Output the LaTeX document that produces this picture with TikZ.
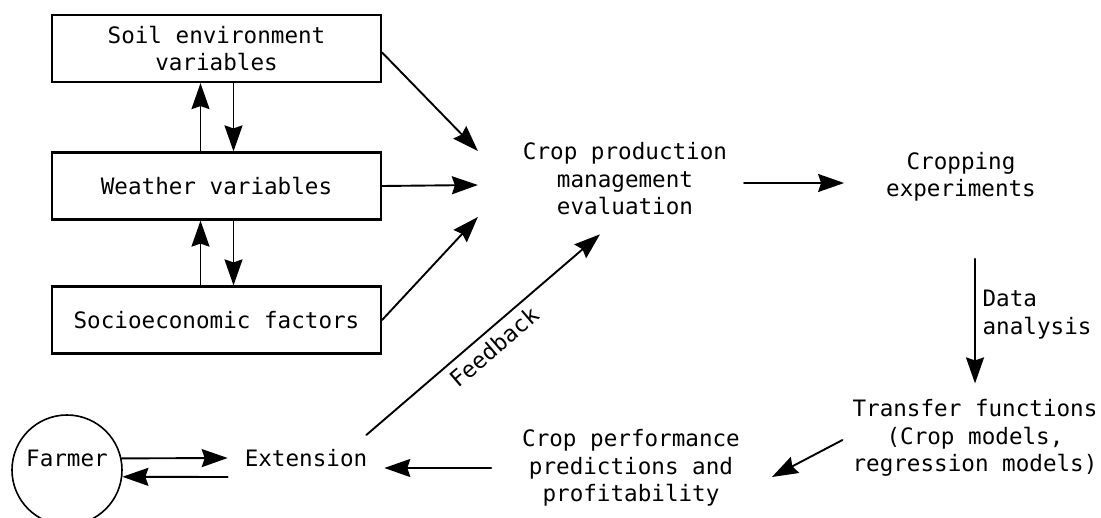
\documentclass[tikz,border=0pt]{standalone}
\usepackage{fontspec}
\newfontfamily\diagfont{DejaVu Sans Mono}
\usetikzlibrary{calc,arrows.meta}

\tikzset{
	box/.style={draw, line width=1.1pt, minimum width=164.5pt, minimum height=33.5pt, align=center},
	txt/.style={align=center},
	arr/.style={line width=0.95pt, -{Stealth[length=13pt,width=9pt,inset=1.5pt]}},
}

\begin{document}
\begin{tikzpicture}[x=0.5pt, y=-0.5pt, line cap=round, font={\diagfont\fontsize{11.3}{13.75}\selectfont}]
		\useasboundingbox (0,0) rectangle (1101,518);
		
		% Boxes
		\node[box] (soil) at (216.5,48.5) {Soil environment\\variables};
		\node[box] (weather) at (216.5,186) {Weather variables};
		\node[box] (socio) at (216.5,320) {Socioeconomic factors};
		
		% Nodes
		\node[txt] (cpme) at (625,179) {Crop production\\management\\evaluation};
		\node[txt] (crexp) at (961,177) {Cropping\\experiments};
		\node[txt] (transfer) at (975,438) {Transfer functions\\(Crop models,\\regression models)};
		\node[txt] (perf) at (631,468) {Crop performance\\predictions and\\profitability};
		\node (ext) at (306,458) {Extension};
		\node[draw, circle, line width=0.8pt, minimum size=55pt, inner sep=0pt,
			label={[yshift=6pt]center:Farmer}] (farmer) at (67,470) {};
		
		% Arrows between the boxes
		\draw[arr] ($(weather.north)+(-16,0)$) -- ($(soil.south)+(-16,0)$);
		\draw[arr] ($(soil.south)+(17,0)$) -- ($(weather.north)+(17,0)$);
		\draw[arr] ($(socio.north)+(-16,0)$) -- ($(weather.south)+(-16,0)$);
		\draw[arr] ($(weather.south)+(17,0)$) -- ($(socio.north)+(17,0)$);
		
		% Arrows
		\draw[arr] ($(soil.east)+(0,4)$) -- ($(cpme.west)+(-38,-28)$);
		\draw[arr] (weather.east) -- ($(cpme.west)+(-38,6)$);
		\draw[arr] (socio.east) -- ($(cpme.west)+(-38,38)$);
		\draw[arr] ($(cpme.east)+(10,4)$) -- ($(crexp.west)+(-35,6)$);
		\draw[arr] ($(crexp.south -| transfer.north)+(0,50)$) -- node[right, align=left, pos=0.45] {Data\\analysis} ($(transfer.north)+(0,-9)$);
		\draw[arr] ($(transfer.west)+(-3,2)$) -- ($(perf.east)+(25,9)$);
		\draw[arr] ($(perf.west)+(-24,0)$) -- ($(ext.east)+(10,10)$);
		\draw[arr] ($(ext.east)+(-8,-23)$) -- node[sloped, below] {Feedback} ($(cpme.south)+(-25,12)$);
		%
		\draw[arr] (farmer.12.6) -- ($(ext.west)+(-10,0)$);
		\draw[arr] ($(ext.west)+(-10,19)$) -- (farmer.-7.3);
	\end{tikzpicture}
\end{document}
